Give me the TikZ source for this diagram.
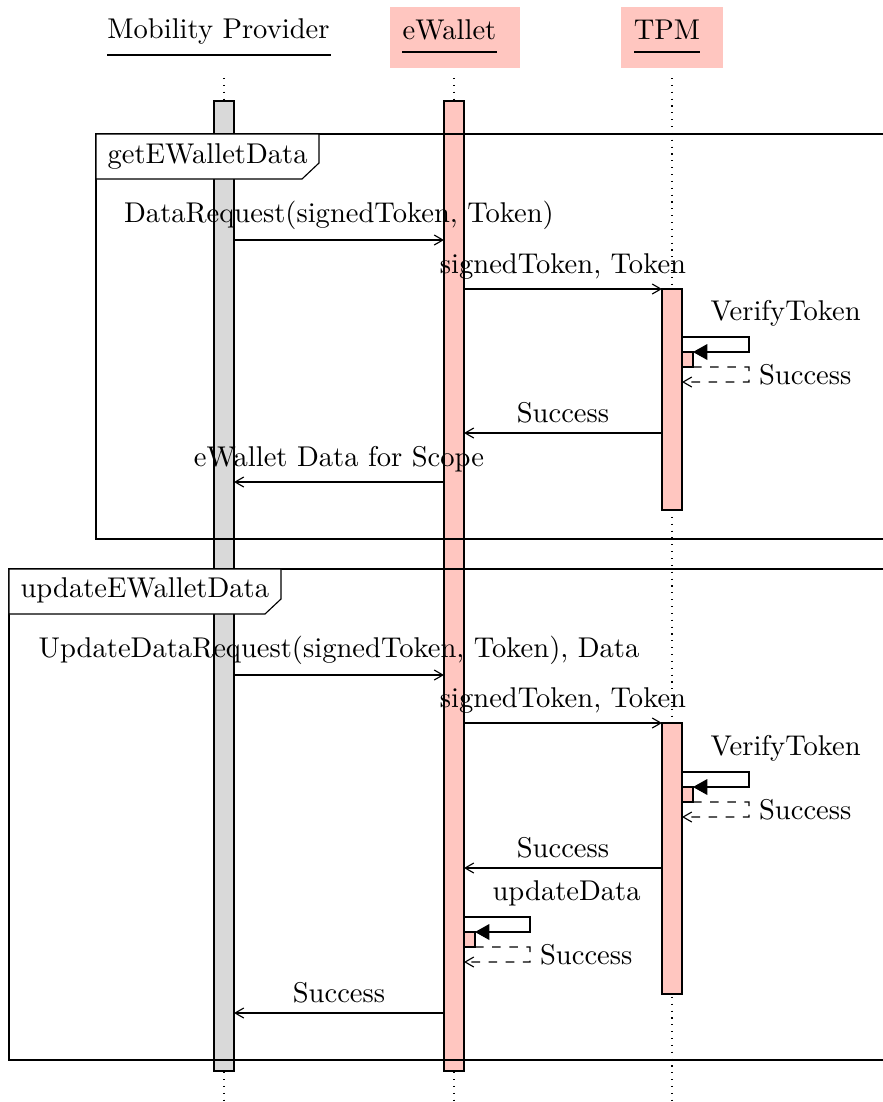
\documentclass[tikz,border=0pt]{standalone}
\usetikzlibrary{arrows.meta,calc}
\definecolor{actpink}{RGB}{255,198,192}
\definecolor{actgray}{RGB}{217,217,217}
\begin{document}
\begin{tikzpicture}[x=0.35pt,y=-0.35pt,
  lifeline/.style={dotted},
  actbar/.style={draw,minimum width=7pt,inner sep=0pt,outer sep=0pt},
  mpact/.style={actbar,fill=actgray},
  pkact/.style={actbar,fill=actpink},
  subact/.style={draw,fill=actpink,minimum width=3.85pt,minimum height=5.25pt,inner sep=0pt,outer sep=0pt},
  msg/.style={-{Straight Barb[angle=60:3.5pt]}},
  selfcall/.style={-{Triangle[length=5pt,width=5.5pt]}},
  reply/.style={dashed,-{Straight Barb[angle=60:3.5pt]}},
  msglabel/.style={above},
  framebox/.style={draw},
  framelabel/.style={draw,fill=white},
  fragtext/.style={anchor=base west,inner sep=0pt},
  headbox/.style={fill=actpink},
  calllabel/.style={anchor=base west,inner sep=0pt},
]
\useasboundingbox (0,0) rectangle (883,1102);
\clip (0,0) rectangle (883,1102);

% ---- participants ----
\fill[headbox] (390,7) rectangle (520,68);
\fill[headbox] (621,7) rectangle (723,68);
\node[anchor=base] (mphead) at (218.5,38) {Mobility Provider};
\node[anchor=base] (ewhead) at (449.5,39) {eWallet};
\node[anchor=base] (tphead) at (667,39) {TPM};
\draw (107,55) -- (331,55);
\draw (402,52) -- (497,52);
\draw (634,52) -- (700,52);

% ---- lifelines ----
\coordinate (mptop) at (224,78);  \coordinate (mpbot) at (224,1102);
\coordinate (ewtop) at (454,78);  \coordinate (ewbot) at (454,1102);
\coordinate (tptop) at (672,78);  \coordinate (tpbot) at (672,1102);
\draw[lifeline] (mptop) -- (mpbot);
\draw[lifeline] (ewtop) -- (ewbot);
\draw[lifeline] (tptop) -- (tpbot);

% ---- activations ----
\node[mpact, minimum height=339.5pt] (mpbar) at (224,586) {};
\node[pkact, minimum height=339.5pt] (ewbar) at (454,586) {};
\node[pkact, minimum height=77.35pt] (tpbarA) at (672,399.5) {};
\node[pkact, minimum height=94.85pt] (tpbarB) at (672,858.5) {};

% ---- combined fragments ----
\draw[framebox] (96,134) rectangle (900,539);
\draw[framelabel] (96,134) -- (319,134) -- (319,163) -- (302,179) -- (96,179) -- cycle;
\node[fragtext] (fragA) at (107,163) {getEWalletData};

\draw[framebox] (9,569) rectangle (900,1060);
\draw[framelabel] (9,569) -- (281,569) -- (281,599) -- (265,614) -- (9,614) -- cycle;
\node[fragtext] (fragB) at (20,597) {updateEWalletData};

% ---- message rows ----
\coordinate (m1) at (0,240);
\coordinate (m2) at (0,289);
\coordinate (s1) at (0,337);
\coordinate (r1) at (0,382);
\coordinate (m3) at (0,433);
\coordinate (m4) at (0,482);
\coordinate (m5) at (0,675);
\coordinate (m6) at (0,723);
\coordinate (s2) at (0,772);
\coordinate (r2) at (0,817);
\coordinate (m7) at (0,868);
\coordinate (s3) at (0,917);
\coordinate (r3) at (0,962);
\coordinate (m8) at (0,1013);

% getEWalletData
\draw[msg] (mpbar.east |- m1) -- node[msglabel] (l1) {DataRequest(signedToken, Token)} (ewbar.west |- m1);
\draw[msg] (ewbar.east |- m2) -- node[msglabel] (l2) {signedToken, Token} (tpbarA.west |- m2);
\node[subact] (vtA) at (687.5,359.5) {};
\draw[selfcall] (tpbarA.east |- s1) -- ++(67,0) |- (vtA.north east);
\node[calllabel] (l3) at ($(tpbarA.east |- s1)+(28,-17)$) {VerifyToken};
\draw[reply] (vtA.south east) -- ++(56,0) -- ++(0,15) node[midway,right] (l4) {Success} -- (tpbarA.east |- r1);
\draw[msg] (tpbarA.west |- m3) -- node[msglabel] (l5) {Success} (ewbar.east |- m3);
\draw[msg] (ewbar.west |- m4) -- node[msglabel] (l6) {eWallet Data for Scope} (mpbar.east |- m4);

% updateEWalletData
\draw[msg] (mpbar.east |- m5) -- node[msglabel] (l7) {UpdateDataRequest(signedToken, Token), Data} (ewbar.west |- m5);
\draw[msg] (ewbar.east |- m6) -- node[msglabel] (l8) {signedToken, Token} (tpbarB.west |- m6);
\node[subact] (vtB) at (687.5,794.5) {};
\draw[selfcall] (tpbarB.east |- s2) -- ++(67,0) |- (vtB.north east);
\node[calllabel] (l9) at ($(tpbarB.east |- s2)+(28,-17)$) {VerifyToken};
\draw[reply] (vtB.south east) -- ++(56,0) -- ++(0,15) node[midway,right] (l10) {Success} -- (tpbarB.east |- r2);
\draw[msg] (tpbarB.west |- m7) -- node[msglabel] (l11) {Success} (ewbar.east |- m7);
\node[subact] (udE) at (469.5,939.5) {};
\draw[selfcall] (ewbar.east |- s3) -- ++(66,0) |- (udE.north east);
\node[calllabel] (l12) at ($(ewbar.east |- s3)+(28,-17)$) {updateData};
\draw[reply] (udE.south east) -- ++(55,0) -- ++(0,15) node[midway,right] (l13) {Success} -- (ewbar.east |- r3);
\draw[msg] (ewbar.west |- m8) -- node[msglabel] (l14) {Success} (mpbar.east |- m8);
\end{tikzpicture}
\end{document}
